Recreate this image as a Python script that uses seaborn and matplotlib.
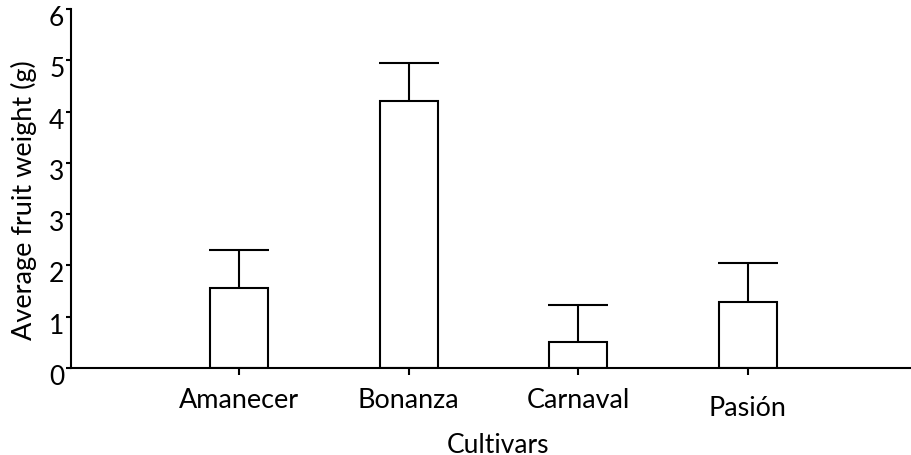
import numpy as np
import pandas as pd
import matplotlib
matplotlib.use("Agg")
import matplotlib.pyplot as plt
import seaborn as sns
from matplotlib.transforms import ScaledTranslation

# ---- data ----
cultivars = ["Amanecer", "Bonanza", "Carnaval", "Pasión"]
mean_weight = [1.33, 4.47, 0.43, 1.10]
error_upper = [0.64, 0.63, 0.63, 0.66]
ytick_labels = ["0", "1", "2", "3", "3", "4", "5", "6"]
x_label = "Cultivars"
y_label = "Average fruit weight (g)"

sns.set_theme(style="white")
plt.rcParams["font.family"] = ["Lato", "DejaVu Sans"]

W, H = 912, 456
fig = plt.figure(figsize=(W / 100, H / 100), dpi=100)
ax = fig.add_axes([71 / W, 87 / H, 841 / W, 359 / H])

df = pd.DataFrame({"Cultivar": cultivars, "Weight": mean_weight})
sns.barplot(data=df, x="Cultivar", y="Weight", color="white", saturation=1,
            edgecolor="black", linewidth=1.5, width=0.343, errorbar=None,
            ax=ax, zorder=2)

xpos = np.arange(len(cultivars))
eb = ax.errorbar(xpos, mean_weight, yerr=[np.zeros(len(error_upper)), error_upper],
                 fmt="none", ecolor="black", elinewidth=1.5, capsize=21.6,
                 capthick=1.5, zorder=1)
if len(eb[1]) == 2:
    eb[1][0].set_visible(False)

ax.set_xlim(-0.992, 3.97)
ax.set_ylim(0, 6)
ax.set_yticks(np.linspace(0, 6, len(ytick_labels)))
ax.set_yticklabels(ytick_labels)

for s in ["top", "right"]:
    ax.spines[s].set_visible(False)
for s in ["left", "bottom"]:
    ax.spines[s].set_color("black")
    ax.spines[s].set_linewidth(1.5)

ax.tick_params(axis="y", direction="out", length=3.6, width=1.5, color="black",
               labelsize=19, pad=1.2, left=True, labelcolor="black")
ax.tick_params(axis="x", direction="out", length=5, width=1.5, color="black",
               labelsize=19.7, pad=9, bottom=True, labelcolor="black")

ax.set_xlabel(x_label, fontsize=19.5, color="black")
ax.set_ylabel(y_label, fontsize=16.5, color="black")
ax.xaxis.label.set_va("center")
ax.yaxis.label.set_va("center")
ax.xaxis.set_label_coords(0.508, -0.212)

# fit the sizes of the axis titles to the reference extents
fig.canvas.draw()
r = fig.canvas.get_renderer()
bb = ax.yaxis.label.get_window_extent(r)
ax.yaxis.label.set_fontsize(16.5 * 280 / bb.height)
bbx = ax.xaxis.label.get_window_extent(r)
ax.xaxis.label.set_fontsize(19.5 * 102 / bbx.width)
for lab in ax.get_xticklabels():
    if lab.get_text() == "Amanecer":
        w = lab.get_window_extent(r).width
        ax.tick_params(axis="x", labelsize=19.7 * 120 / w)
        break
ax.yaxis.set_label_coords((24 - 71) / 841, (369 - 200) / 359)

for lab in ax.get_xticklabels():
    if lab.get_text() == "Pasión":
        lab.set_transform(lab.get_transform() + ScaledTranslation(0, -8 / 100, fig.dpi_scale_trans))
for lab in ax.get_yticklabels():
    lab.set_transform(lab.get_transform() + ScaledTranslation(0, -6 / 100, fig.dpi_scale_trans))

fig.savefig("out.png", dpi=100)
